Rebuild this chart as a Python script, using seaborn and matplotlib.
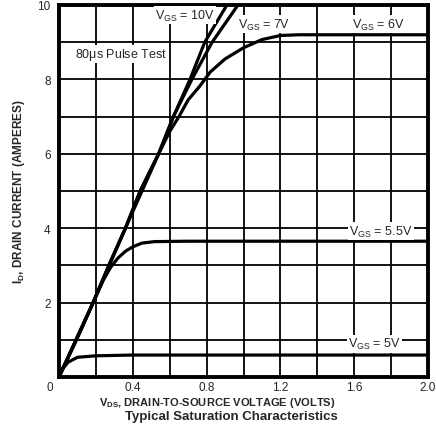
import numpy as np
import pandas as pd
import seaborn as sns
import matplotlib.pyplot as plt

sns.set_style("white")
plt.rcParams['font.family'] = ['Liberation Sans', 'DejaVu Sans']
plt.rcParams['mathtext.fontset'] = 'custom'
plt.rcParams['mathtext.rm'] = 'Liberation Sans'
plt.rcParams['mathtext.bf'] = 'Liberation Sans:bold'
plt.rcParams['mathtext.default'] = 'regular'

# curves (V_DS in volts, I_D in amperes)
vds_10v = [0, 0.185, 0.27, 0.36, 0.44, 0.54, 0.62, 0.71, 0.79, 0.91, 0.93]
id_10v = [0, 2.0, 3.0, 4.0, 5.0, 6.0, 7.0, 8.0, 9.0, 10.0, 10.2]

vds_7v = [0, 0.185, 0.27, 0.36, 0.44, 0.54, 0.62, 0.72, 0.83, 0.97, 0.99]
id_7v = [0, 2.0, 3.0, 4.0, 5.0, 6.0, 7.0, 8.0, 9.0, 10.0, 10.2]

vds_6v = [0, 0.185, 0.36, 0.54, 0.60, 0.65, 0.70, 0.76, 0.82, 0.90, 1.0, 1.1, 1.2, 1.3, 2.0]
id_6v = [0, 2.0, 4.0, 6.0, 6.6, 7.0, 7.45, 7.8, 8.2, 8.55, 8.85, 9.07, 9.18, 9.2, 9.2]

vds_55v = [0, 0.1, 0.185, 0.24, 0.28, 0.32, 0.36, 0.40, 0.45, 0.52, 0.7, 2.0]
id_55v = [0, 1.05, 2.0, 2.6, 2.95, 3.2, 3.38, 3.5, 3.6, 3.64, 3.65, 3.65]

vds_5v = [0, 0.016, 0.05, 0.1, 0.2, 0.4, 2.0]
id_5v = [0, 0.2, 0.4, 0.53, 0.57, 0.59, 0.59]

xticks = [0.4, 0.8, 1.2, 1.6, 2.0]
xtick_labels = ["0.4", "0.8", "1.2", "1.6", "2.0"]
yticks = [2, 4, 6, 8, 10]
ytick_labels = ["2", "4", "6", "8", "10"]

fig = plt.figure(figsize=(4.36, 4.35), dpi=100)
ax = fig.add_axes([59/436, 1 - 378/435, 369/436, 372/435])

for xs, ys in [(vds_10v, id_10v), (vds_7v, id_7v), (vds_6v, id_6v),
               (vds_55v, id_55v), (vds_5v, id_5v)]:
    sns.lineplot(x=xs, y=ys, ax=ax, color='black', linewidth=2.3, sort=False,
                 solid_capstyle='butt', zorder=3)

ax.set_xlim(0, 2.0)
ax.set_ylim(0, 10)
ax.set_xticks(xticks)
ax.set_xticklabels(xtick_labels)
ax.set_xticks(np.arange(0, 2.01, 0.2), minor=True)
ax.set_yticks(yticks)
ax.set_yticklabels(ytick_labels)
ax.set_yticks(np.arange(0, 10.1, 1), minor=True)
ax.grid(which='both', color='black', linewidth=1.3)
ax.set_axisbelow(True)
ax.tick_params(which='both', length=0, labelsize=8.5)
ax.tick_params(axis='y', pad=6)
ax.tick_params(axis='x', pad=3)
for s in ax.spines.values():
    s.set_linewidth(2.8)
    s.set_color('black')
    s.set_visible(True)

ax.annotate("0", xy=(0, 0), xytext=(-9, -10), textcoords='offset pixels',
            ha='center', va='center', fontsize=8.5)

box = dict(facecolor='white', edgecolor='none', pad=1)
ax.text(0.683, 9.73, r"V$_{GS}$ = 10V", fontsize=9, ha='center', va='center', bbox=box, zorder=4)
ax.text(0.97, 9.48, r"V$_{GS}$ = 7V", fontsize=9, ha='left', va='center', bbox=box, zorder=4)
ax.text(1.73, 9.49, r"V$_{GS}$ = 6V", fontsize=9, ha='center', va='center', bbox=box, zorder=4)
ax.text(1.745, 3.92, r"V$_{GS}$ = 5.5V", fontsize=9, ha='center', va='center', bbox=box, zorder=4)
ax.text(1.71, 0.89, r"V$_{GS}$ = 5V", fontsize=9, ha='center', va='center', bbox=box, zorder=4)
ax.text(0.336, 8.68, r"80$\mu$s Pulse Test", fontsize=9, ha='center', va='center', bbox=box, zorder=4)

ax.set_xlabel(r"V$_{DS}$, DRAIN-TO-SOURCE VOLTAGE (VOLTS)", fontsize=8,
              fontweight='bold')
ax.xaxis.label.set_va('top')
ax.xaxis.set_label_coords(0.43, -(396 - 378) / 372)
ax.set_ylabel(r"I$_{D}$, DRAIN CURRENT (AMPERES)", fontsize=8.5, fontweight='bold')
ax.yaxis.set_label_coords(-0.087, 0.5)
fig.text(231/436, 1 - 411/435, "Typical Saturation Characteristics", fontsize=9.5,
         fontweight='bold', ha='center', va='top')

fig.savefig("out.png", dpi=100)
